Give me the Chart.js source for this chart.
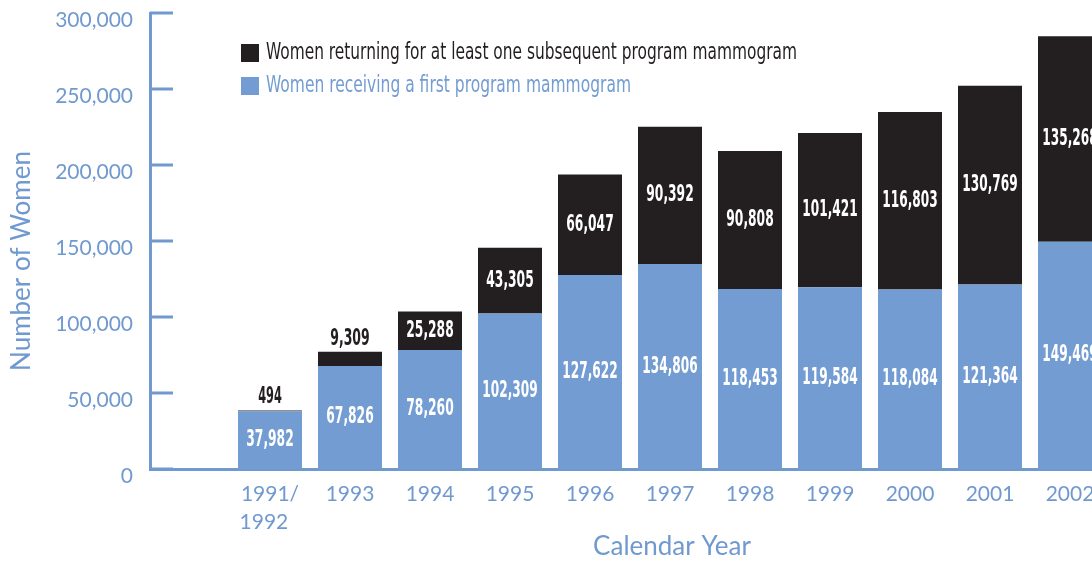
<!DOCTYPE html>
<html>
<head>
<meta charset="utf-8">
<script src="https://cdn.jsdelivr.net/npm/chart.js@4.4.1/dist/chart.umd.min.js"></script>
<style>
html, body { margin: 0; padding: 0; overflow: hidden; background: #fff; }
#wrap { width: 1110px; height: 563px; }
</style>
</head>
<body>
<div id="wrap"><canvas id="mammoChart" width="1110" height="563"></canvas></div>
<script>
// datos
var years = ['', ['1991/', '1992\u2007'], '1993', '1994', '1995', '1996', '1997', '1998', '1999', '2000', '2001', '2002'];
var firstMammogram = [null, 37982, 67826, 78260, 102309, 127622, 134806, 118453, 119584, 118084, 121364, 149469];
var returningWomen = [null, 494, 9309, 25288, 43305, 66047, 90392, 90808, 101421, 116803, 130769, 135268];
var yTicks = [0, 50000, 100000, 150000, 200000, 250000, 300000];

var blue = '#729cd2';
var axisBlue = '#7099d0';
var dark = '#231f20';
var tickFont = 'Lato, "Open Sans", sans-serif';
var narrow = '"Liberation Sans Narrow", "DejaVu Sans Condensed", sans-serif';

function fmt(v) { return v.toLocaleString('en-US'); }

// ticks hacia dentro, etiquetas de barras, leyenda y titulos
var extras = {
    id: 'extras',
    afterDatasetsDraw: function (chart) {
        var ctx = chart.ctx, area = chart.chartArea, yScale = chart.scales.y;
        ctx.save();

        ctx.strokeStyle = axisBlue;
        ctx.lineWidth = 3;
        yTicks.forEach(function (v) {
            var py = yScale.getPixelForValue(v);
            ctx.beginPath();
            ctx.moveTo(area.left, py);
            ctx.lineTo(area.left + 23, py);
            ctx.stroke();
        });

        ctx.textAlign = 'center';
        ctx.textBaseline = 'middle';
        ctx.font = 'bold 23px ' + narrow;
        chart.data.datasets.forEach(function (ds, i) {
            var meta = chart.getDatasetMeta(i);
            meta.data.forEach(function (bar, j) {
                var v = ds.data[j];
                if (v == null) return;
                var txt = fmt(v);
                var w = Math.min(ctx.measureText(txt).width, txt.length * 7.9);
                var h = Math.abs(bar.base - bar.y);
                if (h < 30) {
                    ctx.fillStyle = dark;
                    ctx.fillText(txt, bar.x, bar.y - 13, w);
                } else {
                    ctx.fillStyle = '#ffffff';
                    ctx.fillText(txt, bar.x, (bar.y + bar.base) / 2, w);
                }
            });
        });

        // leyenda dentro del area
        var items = [
            { text: chart.data.datasets[1].label, color: dark, y: 53, w: 531 },
            { text: chart.data.datasets[0].label, color: blue, y: 86, w: 365 }
        ];
        ctx.textAlign = 'left';
        ctx.font = '23px ' + narrow;
        items.forEach(function (it) {
            ctx.fillStyle = it.color;
            ctx.fillRect(241, it.y - 9, 18, 18);
            ctx.fillText(it.text, 266, it.y, it.w);
        });

        // titulos de ejes
        ctx.fillStyle = axisBlue;
        ctx.font = '26px ' + tickFont;
        ctx.textAlign = 'center';
        ctx.fillText('Calendar Year', 672, 547, 170);
        ctx.translate(22, 261);
        ctx.rotate(-Math.PI / 2);
        ctx.fillText('Number of Women', 0, 0, 222);
        ctx.restore();
    }
};

var ctx = document.getElementById('mammoChart').getContext('2d');
var chart = new Chart(ctx, {
    type: 'bar',
    data: {
        labels: years,
        datasets: [
            {
                label: 'Women receiving a first program mammogram',
                data: firstMammogram,
                backgroundColor: blue,
                barPercentage: 0.8,
                categoryPercentage: 1
            },
            {
                label: 'Women returning for at least one subsequent program mammogram',
                data: returningWomen,
                backgroundColor: dark,
                barPercentage: 0.8,
                categoryPercentage: 1
            }
        ]
    },
    options: {
        responsive: false,
        animation: false,
        layout: { padding: { top: 13, left: 0, right: 0, bottom: 0 } },
        plugins: {
            legend: { display: false },
            tooltip: { enabled: false }
        },
        scales: {
            x: {
                stacked: true,
                grid: { display: false, drawTicks: false },
                border: { display: true, color: axisBlue, width: 3 },
                ticks: {
                    color: axisBlue,
                    font: { family: tickFont, size: 21, lineHeight: 1.3 },
                    padding: 12,
                    maxRotation: 0,
                    autoSkip: false
                },
                afterFit: function (axis) {
                    axis.height = 94;
                    axis.paddingLeft = 0;
                    axis.paddingRight = 0;
                }
            },
            y: {
                stacked: true,
                min: 0,
                max: 300000,
                grid: { display: false, drawTicks: false },
                border: { display: true, color: axisBlue, width: 3 },
                afterBuildTicks: function (axis) {
                    axis.ticks = yTicks.map(function (v) { return { value: v }; });
                },
                ticks: {
                    color: axisBlue,
                    font: { family: tickFont, size: 21 },
                    padding: 17,
                    labelOffset: 7,
                    callback: function (v) { return fmt(v); }
                },
                afterFit: function (axis) {
                    axis.width = 150;
                    axis.paddingTop = 0;
                    axis.paddingBottom = 0;
                }
            }
        }
    },
    plugins: [extras]
});
</script>
</body>
</html>
